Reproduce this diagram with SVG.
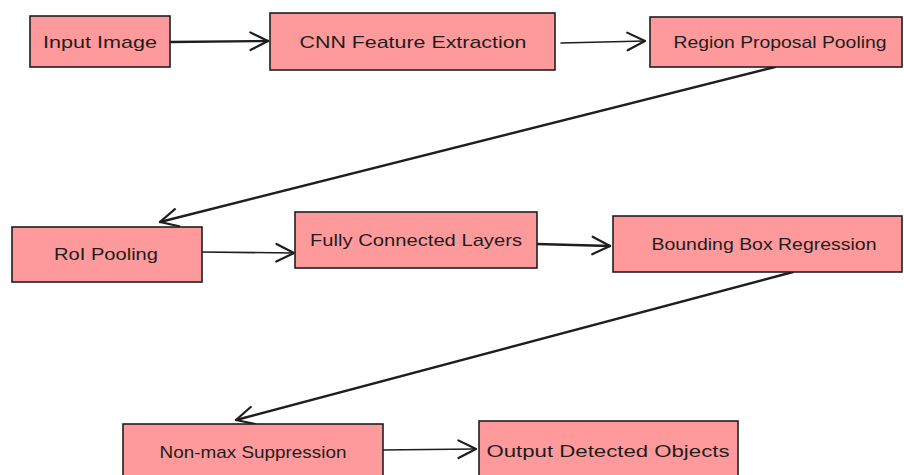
<svg xmlns="http://www.w3.org/2000/svg" width="904" height="475" viewBox="0 0 904 475">
  <style>
    .box { fill: #ff9a9c; stroke: #1e1e1e; stroke-width: 1.6; }
    .label { font-family: "Liberation Sans", Arial, sans-serif; font-size: 17px; fill: #1e1e1e; text-anchor: middle; dominant-baseline: central; }
    .edge { fill: none; stroke: #1e1e1e; stroke-width: 1.6; stroke-linecap: round; }
    .bold { stroke-width: 2.4; }
  </style>
  <defs>
    <marker id="arrow" viewBox="0 0 20 20" refX="18" refY="10" markerWidth="22" markerHeight="22" markerUnits="userSpaceOnUse" orient="auto">
      <path d="M2 2 L18 10 L2 18" fill="none" stroke="#1e1e1e" stroke-width="2" stroke-linecap="round" stroke-linejoin="round"/>
    </marker>
  </defs>
  <rect width="904" height="475" fill="#ffffff"/>

  <g id="connectors">
    <path class="edge bold" d="M170 42 L268 41" marker-end="url(#arrow)"/>
    <path class="edge" d="M561 43 L645 41" marker-end="url(#arrow)"/>
    <path class="edge bold" d="M775 67 L160 222" marker-end="url(#arrow)"/>
    <path class="edge" d="M202 252 L294 253" marker-end="url(#arrow)"/>
    <path class="edge bold" d="M537 244 L610 246" marker-end="url(#arrow)"/>
    <path class="edge bold" d="M793 272 L236 420" marker-end="url(#arrow)"/>
    <path class="edge" d="M380 450 L476 449" marker-end="url(#arrow)"/>
  </g>

  <g id="input-image">
    <rect class="box" x="30" y="16" width="140" height="51"/>
    <text class="label" x="100" y="42" textLength="114" lengthAdjust="spacingAndGlyphs">Input Image</text>
  </g>
  <g id="cnn-feature-extraction">
    <rect class="box" x="270" y="13" width="285" height="57"/>
    <text class="label" x="413" y="42" textLength="227" lengthAdjust="spacingAndGlyphs">CNN Feature Extraction</text>
  </g>
  <g id="region-proposal-pooling">
    <rect class="box" x="650" y="17" width="252" height="50"/>
    <text class="label" x="780" y="42" textLength="213" lengthAdjust="spacingAndGlyphs">Region Proposal Pooling</text>
  </g>
  <g id="roi-pooling">
    <rect class="box" x="12" y="227" width="190" height="55"/>
    <text class="label" x="106" y="254" textLength="104" lengthAdjust="spacingAndGlyphs">RoI Pooling</text>
  </g>
  <g id="fully-connected-layers">
    <rect class="box" x="295" y="212" width="242" height="56"/>
    <text class="label" x="416" y="240" textLength="212" lengthAdjust="spacingAndGlyphs">Fully Connected Layers</text>
  </g>
  <g id="bounding-box-regression">
    <rect class="box" x="613" y="216" width="289" height="56"/>
    <text class="label" x="764" y="244" textLength="225" lengthAdjust="spacingAndGlyphs">Bounding Box Regression</text>
  </g>
  <g id="non-max-suppression">
    <rect class="box" x="123" y="424" width="260" height="60"/>
    <text class="label" x="253" y="452" textLength="187" lengthAdjust="spacingAndGlyphs">Non-max Suppression</text>
  </g>
  <g id="output-detected-objects">
    <rect class="box" x="479" y="421" width="259" height="60"/>
    <text class="label" x="608" y="451" textLength="243" lengthAdjust="spacingAndGlyphs">Output Detected Objects</text>
  </g>
</svg>
